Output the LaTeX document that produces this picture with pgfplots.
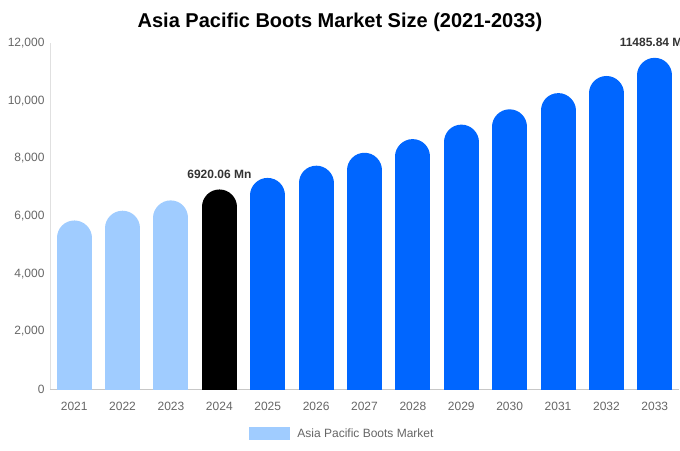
\documentclass[border=0pt]{standalone}
\usepackage{pgfplots}
\pgfplotsset{compat=1.18}
\usepackage{fontspec}
\setmainfont{Liberation Sans}
\definecolor{lightb}{HTML}{A0CCFF}
\definecolor{mainb}{HTML}{0066FF}
\definecolor{txtg}{HTML}{666666}
\definecolor{lblg}{HTML}{333333}
\begin{document}
\begin{tikzpicture}[x=1pt,y=1pt]
\useasboundingbox (-50,-61) rectangle (630,389);
\node[font=\bfseries\fontsize{20}{24}\selectfont] at (290,367) {Asia Pacific Boots Market Size (2021-2033)};
\begin{axis}[
  at={(0,0)}, anchor=south west,
  scale only axis, width=629pt, height=346pt,
  xmin=-0.5, xmax=12.5, ymin=0, ymax=12000,
  axis x line*=bottom, axis y line*=left,
  x axis line style={draw=black!22,-},
  y axis line style={draw=black!12,-},
  xtick={0,1,2,3,4,5,6,7,8,9,10,11,12},
  xticklabels={2021,2022,2023,2024,2025,2026,2027,2028,2029,2030,2031,2032,2033},
  ytick={0,2000,4000,6000,8000,10000,12000},
  scaled y ticks=false,
  /pgf/number format/.cd, 1000 sep={,}, assume math mode=true, /pgfplots/.cd,
  ticklabel style={font=\fontsize{12}{14}\selectfont, text=txtg},
  major tick length=0pt,
  xticklabel style={yshift=-10pt},
  yticklabel style={xshift=-2pt},
  legend style={draw=none, at={(0.465,-0.13)}, anchor=center,
    font=\fontsize{12}{14}\selectfont, text=txtg,
    /tikz/every odd column/.append style={column sep=6pt}},
  nodes near coords style={font=\bfseries\fontsize{12}{14}\selectfont, text=lblg, anchor=center, yshift=32.5pt},
  every axis plot/.append style={ycomb, line width=35pt, line cap=round, mark=none},
  y filter/.expression={y-606.9},
]
\addplot[color=lightb,
  legend image code/.code={\fill[lightb, line width=0pt] (0pt,-6pt) rectangle (40pt,6pt);}]
  coordinates {(0,5845) (1,6183) (2,6541)};
\addlegendentry{Asia Pacific Boots Market}
\addplot[color=black, forget plot, nodes near coords={6920.06 Mn}]
  coordinates {(3,6920.06)};
\addplot[color=mainb, forget plot]
  coordinates {(4,7321) (5,7745) (6,8193) (7,8667) (8,9169) (9,9700) (10,10262) (11,10856)};
\addplot[color=mainb, forget plot, nodes near coords={11485.84 Mn}]
  coordinates {(12,11485.84)};
\end{axis}
\end{tikzpicture}
\end{document}
